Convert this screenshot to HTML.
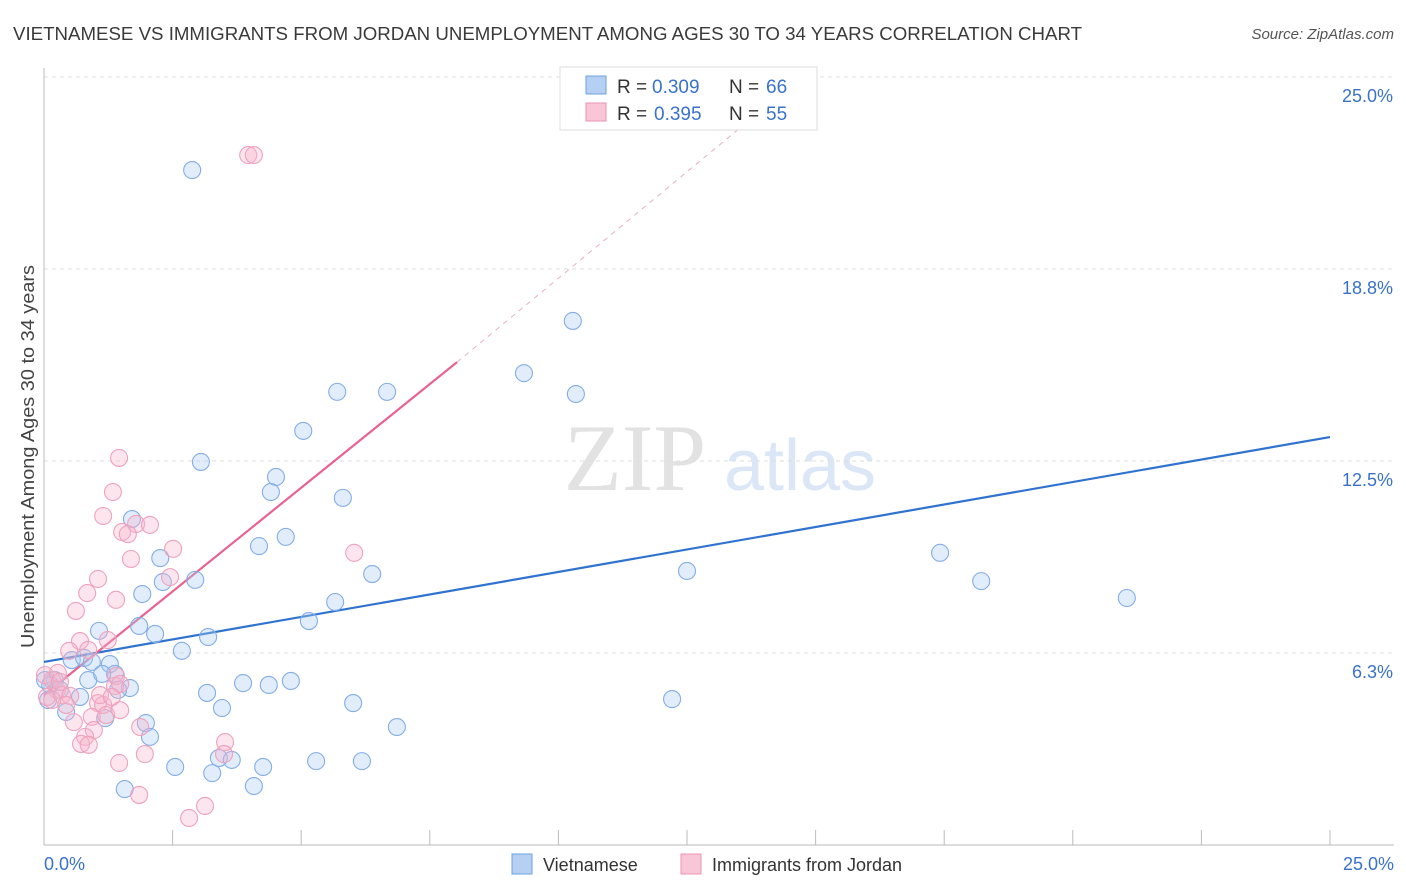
<!DOCTYPE html>
<html><head><meta charset="utf-8"><style>
body{margin:0;background:#fff;font-family:"Liberation Sans",sans-serif;}
svg{display:block}
</style></head><body>
<svg id="chart" width="1406" height="892">
<text x="13" y="40" font-size="18" textLength="1069" lengthAdjust="spacingAndGlyphs" fill="#3a3a3a">VIETNAMESE VS IMMIGRANTS FROM JORDAN UNEMPLOYMENT AMONG AGES 30 TO 34 YEARS CORRELATION CHART</text>
<text x="1394" y="39" font-size="15" fill="#555" font-style="italic" text-anchor="end">Source: ZipAtlas.com</text>
<text transform="translate(34,648) rotate(-90)" font-size="18" textLength="383" lengthAdjust="spacingAndGlyphs" fill="#444">Unemployment Among Ages 30 to 34 years</text>
<g><text x="635" y="490" font-size="95" fill="#e2e2e2" font-family="Liberation Serif,serif" text-anchor="middle">ZIP</text><text x="800" y="490" font-size="72" fill="#dbe6f6" text-anchor="middle">atlas</text></g>
<g id="grid"></g><g id="axes"></g><g id="lines"></g><g id="pts"></g>
<g>
<rect x="560" y="67" width="257" height="63" fill="#fff" stroke="#ddd"/>
<rect x="586" y="76" width="20" height="18" fill="#b6d0f3" stroke="#6fa0e0"/>
<text x="617" y="93" font-size="19" fill="#333">R =</text><text x="652" y="93" font-size="19" fill="#3a72c9">0.309</text>
<text x="729" y="93" font-size="19" fill="#333">N =</text><text x="766" y="93" font-size="19" fill="#3a72c9">66</text>
<rect x="586" y="103" width="20" height="18" fill="#f8c6d6" stroke="#ec94b4"/>
<text x="617" y="120" font-size="19" fill="#333">R =</text><text x="654" y="120" font-size="19" fill="#3a72c9">0.395</text>
<text x="729" y="120" font-size="19" fill="#333">N =</text><text x="766" y="120" font-size="19" fill="#3a72c9">55</text>
</g>
<g>
<rect x="512" y="854" width="20" height="20" fill="#b6d0f3" stroke="#6fa0e0"/>
<text x="543" y="871" font-size="18" fill="#333">Vietnamese</text>
<rect x="681" y="854" width="20" height="20" fill="#f8c6d6" stroke="#ec94b4"/>
<text x="712" y="871" font-size="18" fill="#333">Immigrants from Jordan</text>
</g>
</svg>
<script>
const yTicks=[25,18.75,12.5,6.25];
const yTickLabels=["25.0%","18.8%","12.5%","6.3%"];
const xTickCount=10;
const blueX=[2.88,10.28,9.33,10.34,5.70,6.67,5.04,3.05,4.51,4.41,5.81,1.71,4.70,4.18,2.26,6.38,2.94,2.31,1.91,5.66,5.15,1.85,1.07,2.16,3.19,2.68,0.54,0.78,1.28,0.93,0.86,1.38,1.13,1.67,1.44,0.21,0.12,0.31,3.17,3.87,4.37,4.80,6.01,3.46,0.43,1.19,1.98,2.06,6.86,3.40,3.65,2.55,3.27,4.26,5.29,6.18,4.08,1.57,12.21,12.50,17.42,18.22,21.05,0.70,0.02,0.08];
const blueY=[21.97,17.06,15.36,14.68,14.75,14.75,13.48,12.47,11.98,11.49,11.30,10.61,10.03,9.73,9.34,8.82,8.63,8.56,8.17,7.91,7.29,7.13,6.97,6.87,6.77,6.32,6.02,6.09,5.89,5.96,5.37,5.57,5.57,5.11,5.05,5.37,5.21,5.05,4.95,5.27,5.21,5.34,4.62,4.46,4.33,4.13,3.97,3.52,3.84,2.83,2.77,2.54,2.34,2.54,2.73,2.73,1.92,1.82,4.75,8.92,9.51,8.59,8.04,4.82,5.37,4.72];
const pinkX=[3.97,4.08,1.46,1.34,1.15,1.79,2.06,1.52,1.63,2.51,6.03,1.69,1.05,2.45,0.84,1.40,0.62,1.24,0.70,0.49,0.86,1.40,1.38,0.02,0.16,0.25,0.06,0.35,0.51,0.43,1.05,1.15,0.93,1.21,1.48,0.58,0.97,0.80,1.87,0.72,0.87,3.52,3.50,1.96,1.46,1.85,3.13,2.82,0.16,0.27,0.31,1.09,1.48,1.32];
const pinkY=[22.46,22.46,12.60,11.49,10.71,10.45,10.42,10.19,10.12,9.64,9.51,9.31,8.66,8.72,8.20,7.98,7.62,6.67,6.64,6.32,6.35,5.50,5.18,5.53,5.37,5.05,4.82,4.88,4.85,4.56,4.62,4.56,4.17,4.23,4.39,4.00,3.74,3.52,3.84,3.29,3.26,3.35,2.96,2.96,2.67,1.63,1.27,0.88,4.72,5.60,5.31,4.88,5.24,4.82];
const blueTrend=[[0,5.96],[25,13.28]];
const pinkTrend=[[0,4.88],[8.03,15.72]];
const pinkDash=[[8.03,15.72],[13.5,23.3]];
const NS="http://www.w3.org/2000/svg";
const X=v=>44+v*51.44, Y=v=>845-v*30.72;
function mk(tag,attrs,parent){const e=document.createElementNS(NS,tag);for(const k in attrs)e.setAttribute(k,attrs[k]);document.getElementById(parent).appendChild(e);return e;}
yTicks.forEach((t,i)=>{
 const g=mk('line',{x1:44,x2:1394,y1:Y(t),y2:Y(t),stroke:'#ddd','stroke-dasharray':'4,4'},'grid');
 
 
 const l=mk('text',{x:1393,y:Y(t)+25,'font-size':18,fill:'#3a72c9','text-anchor':'end'},'grid');
 l.textContent=yTickLabels[i];
 
 
});
const ax=mk('line',{x1:44,x2:1394,y1:845,y2:845,stroke:'#bbb'},'axes');


const ay=mk('line',{x1:44,x2:44,y1:68,y2:845,stroke:'#bbb'},'axes');


for(let i=0;i<=xTickCount;i++){
 const t=mk('line',{x1:X(i*2.5),x2:X(i*2.5),y1:830,y2:845,stroke:'#bbb'},'axes');
 
 
}
const x0=mk('text',{x:44,y:870,'font-size':18,fill:'#3a72c9'},'axes');x0.textContent='0.0%';


const x1=mk('text',{x:1394,y:870,'font-size':18,fill:'#3a72c9','text-anchor':'end'},'axes');x1.textContent='25.0%';


const bl=mk('line',{x1:X(blueTrend[0][0]),y1:Y(blueTrend[0][1]),x2:X(blueTrend[1][0]),y2:Y(blueTrend[1][1]),stroke:'#2f72d0','stroke-width':2.2},'lines');


const pl=mk('line',{x1:X(pinkTrend[0][0]),y1:Y(pinkTrend[0][1]),x2:X(pinkTrend[1][0]),y2:Y(pinkTrend[1][1]),stroke:'#e8638f','stroke-width':2.2},'lines');


const pd=mk('line',{x1:X(pinkDash[0][0]),y1:Y(pinkDash[0][1]),x2:X(pinkDash[1][0]),y2:Y(pinkDash[1][1]),stroke:'#e8b0c2','stroke-width':1,'stroke-dasharray':'5,5'},'lines');


blueX.forEach((v,i)=>{
 const c=mk('circle',{cx:X(v),cy:Y(blueY[i]),r:8.5,fill:'rgba(170,202,242,0.35)',stroke:'#84ade6','stroke-width':1.1},'pts');
 
 
});
pinkX.forEach((v,i)=>{
 const c=mk('circle',{cx:X(v),cy:Y(pinkY[i]),r:8.5,fill:'rgba(246,180,202,0.35)',stroke:'#eea2bd','stroke-width':1.1},'pts');
 
 
});
</script>
</body></html>
